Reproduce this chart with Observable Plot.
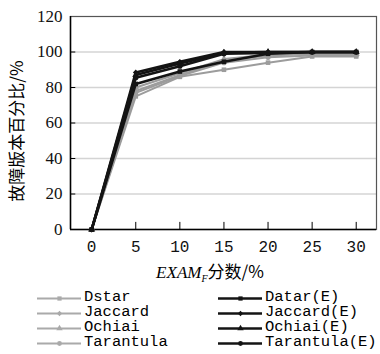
<!DOCTYPE html>
<html><head><meta charset="utf-8">
<script src="https://cdn.jsdelivr.net/npm/d3@7"></script>
<script src="https://cdn.jsdelivr.net/npm/@observablehq/plot@0.6"></script>
<style>
body{margin:0;background:#fff;width:380px;height:354px;overflow:hidden;}
#wrap{position:relative;width:380px;height:354px;}
#ytitle{position:absolute;left:16px;top:131px;transform:translate(-50%,-50%) rotate(-90deg);white-space:nowrap;font-family:"Noto Sans CJK SC";font-size:17px;line-height:20px;}
#xtitle{position:absolute;left:0;width:420px;top:260px;text-align:center;font-family:"Noto Sans CJK SC";font-size:17px;line-height:22px;}
#xtitle i{font-family:"Liberation Serif";font-size:17px;}
#xtitle sub{font-family:"Liberation Serif";font-style:italic;font-size:10px;vertical-align:-4px;}
.leg{position:absolute;top:290px;font-family:"Liberation Mono";font-size:15.5px;line-height:15px;}
.row{display:flex;align-items:center;height:15px;white-space:nowrap;}
.row svg{flex:none;margin-right:3px;}
</style></head>
<body><div id="wrap"><div id="chart"></div>
<div id="ytitle">故障版本百分比/%</div>
<div id="xtitle"><i>EXAM</i><sub>F</sub>分数/%</div>
<div class="leg" id="legL" style="left:37px"></div>
<div class="leg" id="legR" style="left:218px"></div>
</div>
<script>
const xs = [0, 5, 10, 15, 20, 25, 30];
const yTicks = [0, 20, 40, 60, 80, 100, 120];
const names = ["Dstar", "Jaccard", "Ochiai", "Tarantula", "Datar(E)", "Jaccard(E)", "Ochiai(E)", "Tarantula(E)"];
const dstar       = [0, 75, 86, 90, 94, 97.5, 97.5];
const jaccard     = [0, 78, 87, 95, 98, 99, 99];
const ochiai      = [0, 80, 88, 96, 98.5, 99, 99];
const tarantula   = [0, 77, 86.5, 94, 97, 98, 98];
const datarE      = [0, 82, 89, 94.5, 99, 100, 100];
const jaccardE    = [0, 88.5, 94.5, 100, 100, 100, 100];
const ochiaiE     = [0, 87, 93.5, 99.5, 100, 100, 100];
const tarantulaE  = [0, 85.5, 92, 99, 99.5, 100, 100];
const seriesVals = [dstar, jaccard, ochiai, tarantula, datarE, jaccardE, ochiaiE, tarantulaE];
const symbols = ["square", "diamond2", "triangle", "circle", "square", "diamond2", "triangle", "circle"];
const gray = "#9c9c9c", black = "#141414";

const series = names.map((n, i) => ({
  name: n, symbol: symbols[i], color: i < 4 ? gray : black, width: i < 4 ? 2 : 2.6,
  data: xs.map((x, j) => ({x, y: seriesVals[i][j]}))
}));

const xMin = -2.4, xMax = 32.3;
const marks = [
  Plot.gridY([20, 40, 60, 80, 100], {stroke: "#d4d4d4", strokeOpacity: 1, strokeWidth: 1.5}),
  Plot.frame({stroke: "#555", strokeWidth: 1.2}),
  Plot.ruleX([xMin], {stroke: "#000", strokeWidth: 1.5}),
  Plot.ruleY([0], {stroke: "#000", strokeWidth: 1.5}),
  Plot.ruleY([20, 40, 60, 80, 100], {x1: xMin, x2: xMin + 0.6, stroke: "#000"}),
  Plot.ruleX(xs.slice(1), {y1: 0, y2: 4, stroke: "#000"}),
  Plot.axisY(yTicks, {tickSize: 0, tickPadding: 8, label: null}),
  Plot.axisX(xs, {tickSize: 0, tickPadding: 11, label: null})
];
for (const s of series) {
  marks.push(Plot.line(s.data, {x: "x", y: "y", stroke: s.color, strokeWidth: s.width}));
  marks.push(Plot.dot(s.data, {x: "x", y: "y", symbol: s.symbol, fill: s.color, r: 2.6}));
}
const chart = Plot.plot({
  width: 380, height: 258,
  marginLeft: 70, marginRight: 4, marginTop: 16, marginBottom: 29,
  x: {domain: [xMin, xMax]},
  y: {domain: [0, 120]},
  style: {background: "#fff", color: "#111", fontFamily: "'Liberation Serif'", fontSize: "17px"},
  marks
});
d3.select(chart).selectAll("g").each(function() {
  const lab = this.getAttribute("aria-label") || "";
  if (lab === "y-axis tick label") d3.select(this).selectAll("text").style("font-family", "'Liberation Serif'").style("font-size", "17px");
  if (lab === "x-axis tick label") d3.select(this).selectAll("text").style("font-family", "'Liberation Mono'").style("font-size", "16px");
});
document.getElementById("chart").appendChild(chart);

function legItem(s) {
  const row = document.createElement("div");
  row.className = "row";
  const c = s.color === gray ? "#aaaaaa" : s.color;
  const sw = Plot.plot({
    width: 44, height: 12, margin: 0,
    x: {domain: [0, 1], axis: null}, y: {domain: [0, 1], axis: null},
    marks: [
      Plot.ruleY([0.5], {x1: 0, x2: 1, stroke: c, strokeWidth: s.width}),
      Plot.dot([{x: 0.5, y: 0.5}], {x: "x", y: "y", symbol: s.symbol, fill: c, r: 2.4})
    ]
  });
  row.appendChild(sw);
  const t = document.createElement("span");
  t.textContent = s.name;
  row.appendChild(t);
  return row;
}
series.slice(0, 4).forEach(s => document.getElementById("legL").appendChild(legItem(s)));
series.slice(4).forEach(s => document.getElementById("legR").appendChild(legItem(s)));
</script></body></html>
